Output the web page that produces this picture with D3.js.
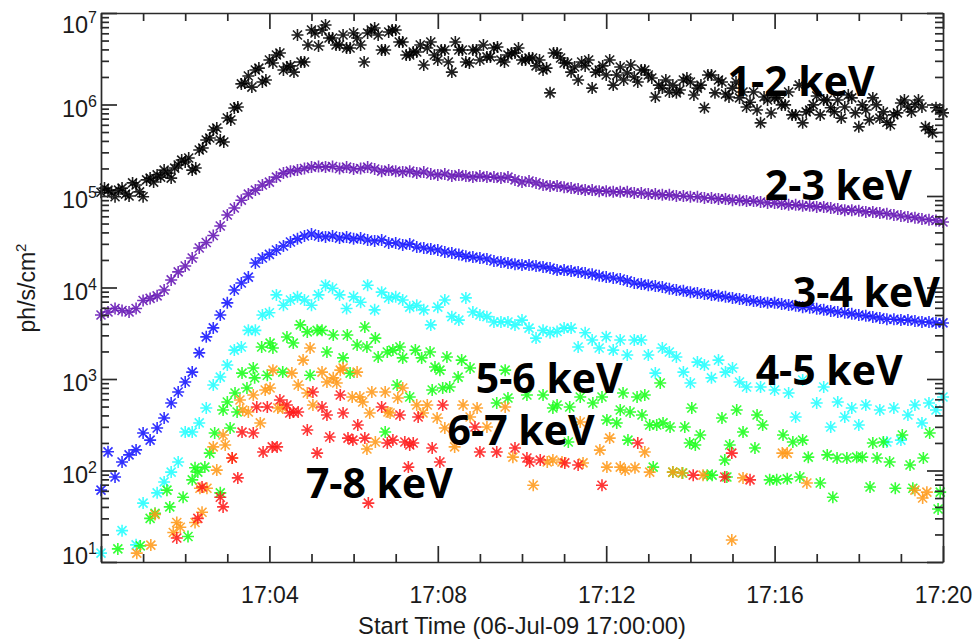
<!DOCTYPE html>
<html><head><meta charset="utf-8">
<script src="https://cdn.jsdelivr.net/npm/d3@7"></script>
<style>
body{margin:0;background:#fff;}
svg{display:block;}
</style></head><body>
<svg id="chart" width="974" height="641"></svg>
<script>
// ---------------- DATA ----------------
// seconds after 17:00:00 UT (regular sampling used by the dense channels)
const timeSec = [0,10,20,30,40,50,60,70,80,90,100,110,120,130,140,150,160,170,180,190,
200,210,220,230,240,250,260,270,280,290,300,310,320,330,340,350,360,370,380,390,
400,410,420,430,440,450,460,470,480,490,500,510,520,530,540,550,560,570,580,590,
600,610,620,630,640,650,660,670,680,690,700,710,720,730,740,750,760,770,780,790,
800,810,820,830,840,850,860,870,880,890,900,910,920,930,940,950,960,970,980,990,
1000,1010,1020,1030,1040,1050,1060,1070,1080,1090,1100,1110,1120,1130,1140,1150,1160,1170,1180,1190,1200];
// intermediate samples of the 1-2 keV channel
const timeSecHalf = [5,15,25,35,45,55,65,75,85,95,105,115,125,135,145,155,165,175,185,195,
205,215,225,235,245,255,265,275,285,295,305,315,325,335,345,355,365,375,385,395,
405,415,425,435,445,455,465,475,485,495,505,515,525,535,545,555,565,575,585,595,
605,615,625,635,645,655,665,675,685,695,705,715,725,735,745,755,765,775,785,795,
805,815,825,835,845,855,865,875,885,895,905,915,925,935,945,955,965,975,985,995,
1005,1015,1025,1035,1045,1055,1065,1075,1085,1095,1105,1115,1125,1135,1145,1155,1165,1175,1185,1195];

const flux12 = [1.1e5,1.16e5,9.8e4,1.22e5,1.0e5,1.32e5,9.8e4,1.57e5,1.7e5,1.92e5,
1.57e5,2.18e5,2.35e5,1.92e5,3.18e5,4.09e5,5.26e5,4.09e5,7.12e5,9.16e5,
1.68e6,2.05e6,2.38e6,1.76e6,3.06e6,3.48e6,2.38e6,2.64e6,5.75e6,2.91e6,
6.52e6,4.36e6,7.39e6,5.33e6,4.47e6,4.14e6,6.04e6,4.47e6,6.04e6,6.86e6,
3.94e6,6.2e6,6.52e6,4.82e6,3.48e6,3.75e6,2.7e6,4.82e6,3.06e6,3.94e6,
2.26e6,3.94e6,2.91e6,3.94e6,3.06e6,3.31e6,4.14e6,3.06e6,3.48e6,3.66e6,
3.06e6,3.22e6,2.64e6,2.38e6,1.34e6,3.66e6,2.84e6,2.26e6,1.85e6,2.64e6,
1.51e6,2.38e6,2.1e6,1.63e6,2.57e6,2.21e6,2.0e6,2.38e6,2.1e6,1.21e6,
1.51e6,1.37e6,1.34e6,1.85e6,1.76e6,1.51e6,9.2e5,2.1e6,1.85e6,1.3e6,
1.51e6,1.18e6,9.4e5,1.37e6,6.3e5,1.12e6,1.18e6,9.9e5,1.37e6,7.7e5,
6.3e5,8.7e5,1.24e6,1.12e6,9.2e5,1.12e6,9.4e5,1.18e6,5.7e5,8.7e5,
1.18e6,7.1e5,6.4e5,7.7e5,1.04e6,9.4e5,1.0e6,9.4e5,5.3e5,9.2e5,8.1e5];
const flux12Half = [1.22e5,1.08e5,1.16e5,1.05e5,1.39e5,1.11e5,1.5e5,1.42e5,1.61e5,1.78e5,
2.02e5,2.47e5,2.6e5,2.02e5,3.35e5,4.3e5,5.53e5,3.89e5,6.78e5,9.4e5,
1.72e6,1.55e6,2.5e6,1.85e6,2.84e6,3.66e6,2.57e6,2.26e6,2.91e6,4.47e6,
6.04e6,6.52e6,5.33e6,4.47e6,5.75e6,4.14e6,5.33e6,2.91e6,6.52e6,5.75e6,
3.94e6,6.52e6,4.82e6,3.48e6,3.75e6,4.47e6,4.14e6,3.48e6,3.94e6,2.91e6,
4.82e6,3.94e6,2.84e6,3.94e6,4.47e6,3.31e6,4.25e6,2.91e6,3.66e6,4.14e6,
3.06e6,3.22e6,3.06e6,2.5e6,3.66e6,3.22e6,2.84e6,2.57e6,2.91e6,3.06e6,
2.26e6,2.64e6,3.06e6,2.1e6,1.85e6,2.7e6,1.76e6,2.38e6,1.95e6,1.63e6,
1.85e6,1.63e6,1.44e6,1.95e6,1.27e6,1.63e6,2.1e6,1.34e6,1.76e6,1.21e6,
1.76e6,1.37e6,1.06e6,8.7e5,1.21e6,8.07e5,1.18e6,9.9e5,7.7e5,1.63e6,
8.3e5,9.9e5,7.7e5,1.12e6,8.3e5,7.1e5,1.27e6,8.1e5,9.9e5,6.8e5,
9.9e5,8.3e5,6.0e5,8.1e5,1.12e6,8.3e5,1.12e6,5.7e5,4.9e5,8.7e5];

const flux23 = [5.0e3,5.4e3,5.9e3,5.6e3,5.4e3,5.9e3,7.2e3,7.6e3,8.1e3,9.4e3,
1.21e4,1.48e4,1.72e4,2.1e4,2.7e4,3.1e4,3.7e4,4.7e4,6.2e4,7.4e4,
9.0e4,1.05e5,1.16e5,1.32e5,1.42e5,1.61e5,1.78e5,1.87e5,1.92e5,2.0e5,
2.07e5,2.1e5,2.07e5,2.1e5,2.0e5,2.07e5,1.97e5,2.0e5,2.07e5,1.97e5,
1.87e5,1.92e5,1.87e5,1.83e5,1.87e5,1.78e5,1.83e5,1.74e5,1.7e5,1.74e5,
1.65e5,1.7e5,1.65e5,1.61e5,1.65e5,1.61e5,1.61e5,1.57e5,1.61e5,1.5e5,
1.42e5,1.46e5,1.39e5,1.32e5,1.29e5,1.29e5,1.25e5,1.22e5,1.19e5,1.16e5,
1.16e5,1.13e5,1.13e5,1.11e5,1.11e5,1.11e5,1.08e5,1.08e5,1.05e5,1.05e5,
1.03e5,1.03e5,1.0e5,1.0e5,9.8e4,9.8e4,9.5e4,9.5e4,9.3e4,9.3e4,
9.0e4,9.0e4,8.8e4,8.8e4,8.6e4,8.4e4,8.4e4,8.2e4,8.0e4,8.0e4,
7.8e4,7.8e4,7.6e4,7.6e4,7.4e4,7.2e4,7.0e4,7.0e4,6.9e4,6.7e4,
6.7e4,6.5e4,6.4e4,6.2e4,6.05e4,5.9e4,5.8e4,5.6e4,5.5e4,5.4e4,5.2e4];

const flux34 = [61,160,85,124,148,168,257,215,291,375,
547,721,927,1190,1930,2890,3620,5000,6800,9400,
1.12e4,1.3e4,1.85e4,2.1e4,2.3e4,2.57e4,2.84e4,3.14e4,3.4e4,3.65e4,
3.84e4,3.65e4,3.57e4,3.65e4,3.47e4,3.57e4,3.4e4,3.47e4,3.3e4,3.22e4,
3.3e4,3.06e4,3.06e4,2.91e4,2.98e4,2.77e4,2.7e4,2.63e4,2.57e4,2.44e4,
2.38e4,2.3e4,2.2e4,2.15e4,2.1e4,2.05e4,1.95e4,1.9e4,1.85e4,1.8e4,
1.76e4,1.76e4,1.72e4,1.68e4,1.63e4,1.55e4,1.55e4,1.51e4,1.48e4,1.44e4,
1.4e4,1.34e4,1.3e4,1.27e4,1.24e4,1.18e4,1.12e4,1.09e4,1.06e4,1.04e4,
1.01e4,9700,9400,9200,8900,8700,8500,8300,8100,7900,
7700,7500,7300,7100,6950,6800,6800,6600,6450,6300,
6100,6000,5850,5700,5550,5400,5300,5150,5000,4900,
4770,4650,4500,4500,4400,4400,4300,4200,4200,4100,4100];

const flux45 = [12.5,null,null,22,null,15.4,44,null,57,75,
96,124,263,263,331,482,860,1050,1420,2070,
2240,3400,3400,5000,5300,8300,6400,7300,7900,7300,
6400,8300,1.06e4,9800,8300,5900,7900,6900,1.06e4,5700,
8900,7700,7900,7300,6100,6400,5700,3900,6100,7300,
4800,4400,7700,5400,5000,4800,4200,4200,4200,3900,
4400,3600,2800,3400,3200,3300,3600,3600,2240,3200,
2670,2180,2900,2070,2670,1830,2670,2670,1830,1160,
2180,1970,1740,1190,904,1530,1420,1030,1610,1190,
1320,927,818,null,818,null,758,null,703,384,
975,null,547,818,299,561,384,482,314,520,
null,458,205,482,215,404,520,331,547,458,636];

// sparser channels: own sample times (s after 17:00) and values
const timeSec56 = [24,56,70,77,94,98,117,124,130,134,
138,148,155,162,170,174,180,184,191,194,
201,208,217,219,229,237,241,245,259,265,
274,284,294,298,308,315,322,331,345,351,
355,365,376,379,391,395,405,408,416,422,
426,430,440,448,457,469,472,476,483,487,
493,497,509,514,526,564,576,580,607,630,
644,650,666,668,683,701,714,721,735,740,
744,751,754,764,771,775,782,787,792,797,
801,811,815,829,832,839,842,847,854,864,
871,885,889,892,896,906,915,932,935,943,
953,963,972,978,986,996,1000,1008,1025,1035,
1043,1049,1063,1077,1085,1096,1100,1106,1115,1124,
1132,1142,1153,1157,1172,1181,1193,1196];
const flux56 = [13.9,15,30,34,61,40,51,19,79,107,
96,109,155,257,57,458,561,291,703,436,
1160,798,1320,1030,2240,1100,2470,2180,1190,2880,
2470,3900,3270,1100,3400,3400,1970,3030,1700,3030,
1160,2350,3700,2240,2800,1740,263,1970,2070,860,
2240,1700,636,2070,1700,1970,759,1350,1250,798,
1740,818,1050,1610,1320,547,1250,620,668,668,
482,520,205,494,636,547,636,357,331,458,
703,215,436,636,404,668,314,109,314,904,
331,299,96,94,299,200,482,190,244,89,
89,375,130,85,190,458,263,176,404,314,
79,79,244,81,205,85,215,140,73,148,
51,137,137,140,140,66,200,137,205,124,
64,244,115,64,137,257,38,58];

const timeSec67 = [51,71,77,103,108,113,134,141,144,151,
160,165,174,177,187,198,202,210,217,227,
234,241,245,252,259,272,281,288,294,298,
302,315,322,331,336,341,345,358,365,369,
373,379,383,386,391,405,409,412,423,430,
450,459,465,479,490,504,516,526,536,550,
576,587,616,636,644,657,683,687,711,721,
725,740,747,761,775,782,815,828,858,899,
915,971,978,1006,1160,1171,1177];
const flux67 = [12.5,15.3,33,21,27,24,27,64,35,64,
181,101,244,190,137,590,458,436,668,331,
759,798,1250,482,482,1160,860,1610,703,2180,
520,1190,927,1030,904,1250,1320,636,1190,636,
561,172,425,721,205,721,436,425,620,798,
520,425,520,375,291,181,520,384,482,299,
494,140,69,124,130,124,339,121,167,109,
226,109,101,107,159,96,96,94,89,17.4,
83,155,155,73,61,50,58];

const timeSec78 = [108,138,144,170,174,187,195,201,217,222,
231,237,244,251,255,265,269,274,281,294,
302,308,315,322,326,341,345,352,359,366,
376,381,400,408,416,426,433,438,440,445,
452,472,483,487,533,540,564,590,607,611,
626,661,680,714,765,844,889,899,925];
const flux78 = [18.3,30,66,51,40,137,83,263,257,494,
159,494,181,181,590,520,425,436,436,277,
721,155,494,404,232,668,425,226,215,314,
226,44,494,200,215,404,205,109,190,200,
384,176,124,520,299,159,159,176,137,124,
130,121,115,69,200,89,85,155,79];

const channelNames = ["1-2 keV","2-3 keV","3-4 keV","4-5 keV","5-6 keV","6-7 keV","7-8 keV"];
const xTickLabels = ["17:04","17:08","17:12","17:16","17:20"];
const yTickExponents = [1,2,3,4,5,6,7];
const xAxisTitle = "Start Time (06-Jul-09 17:00:00)";
const yAxisTitle = "ph/s/cm";
const yAxisTitleSup = "2";

// ---------------- STYLE / LAYOUT ----------------
const colors = ["#000000","#6414b4","#1414ff","#22ffff","#1aff1a","#ff9a1a","#ff1a1a"];
// label anchor (time s, flux) for each channel name
const labelAnchors = [[893,1.24e6],[946,9.0e4],[986,6.1e3],[933,860],[534,703],[494,190],[292,50]];

const W = 974, H = 641;
const M = {left:101, right:943, top:13, bottom:562};
const t0 = Date.UTC(2009,6,6,17,0,0);
const toDate = s => new Date(t0 + s*1000);

const x = d3.scaleUtc().domain([toDate(0), toDate(1200)]).range([M.left, M.right]);
const y = d3.scaleLog().domain([10, 1e7]).range([M.bottom, M.top]);

const svg = d3.select("#chart");
svg.append("rect").attr("width",W).attr("height",H).attr("fill","#fff");

// ---------- markers ----------
const star = "M0,-6V6M-6,0H6M-4.5,-4.5L4.5,4.5M-4.5,4.5L4.5,-4.5";
function pts(times, vals){
  const out=[];
  times.forEach((t,i)=>{ if(vals[i]!=null) out.push([t,vals[i]]); });
  return out;
}
const series = [
  pts(timeSec, flux12).concat(pts(timeSecHalf, flux12Half)),
  pts(timeSec, flux23), pts(timeSec, flux34), pts(timeSec, flux45),
  pts(timeSec56, flux56), pts(timeSec67, flux67), pts(timeSec78, flux78)
];
const gMarks = svg.append("g");
series.forEach((s,k)=>{
  gMarks.append("g").attr("stroke",colors[k]).attr("stroke-width",1.6).attr("fill","none")
    .attr("stroke-opacity",0.88)
    .selectAll("path").data(s).join("path")
    .attr("d",star)
    .attr("transform",d=>`translate(${x(toDate(d[0]))},${y(d[1])})`);
});

// ---------- axes ----------
const majorX = [0,240,480,720,960,1200].map(toDate);
const minorX = [];
for(let m=1;m<20;m++){ if(m%4!==0) minorX.push(toDate(m*60)); }
const majorY = yTickExponents.map(e=>Math.pow(10,e));
const minorY = [];
for(let e=1;e<7;e++){ for(let k=2;k<=9;k++) minorY.push(k*Math.pow(10,e)); }

const axisColor = "#2a2a2a";
function styleAxis(g){
  g.selectAll("path,line").attr("stroke",axisColor).attr("stroke-width",1.7);
  g.attr("font-family","'Liberation Sans', Arial, Helvetica, sans-serif");
}

// bottom
const gxb = svg.append("g").attr("transform",`translate(0,${M.bottom})`)
  .call(d3.axisBottom(x).tickValues(majorX).tickSizeInner(-16).tickSizeOuter(0).tickPadding(25)
    .tickFormat((d,i)=> i===0 ? "" : xTickLabels[i-1]));
styleAxis(gxb);
gxb.selectAll("text").attr("font-size",23).attr("fill","#1a1a1a");
svg.append("g").attr("transform",`translate(0,${M.bottom})`)
  .call(d3.axisBottom(x).tickValues(minorX).tickSizeInner(-8).tickSizeOuter(0).tickFormat(""))
  .call(styleAxis).select(".domain").remove();
// top
const gxt = svg.append("g").attr("transform",`translate(0,${M.top})`)
  .call(d3.axisTop(x).tickValues(majorX).tickSizeInner(-16).tickSizeOuter(0).tickFormat(""));
styleAxis(gxt);
svg.append("g").attr("transform",`translate(0,${M.top})`)
  .call(d3.axisTop(x).tickValues(minorX).tickSizeInner(-8).tickSizeOuter(0).tickFormat(""))
  .call(styleAxis).select(".domain").remove();
// left
const gyl = svg.append("g").attr("transform",`translate(${M.left},0)`)
  .call(d3.axisLeft(y).tickValues(majorY).tickSizeInner(-16).tickSizeOuter(0).tickPadding(4).tickFormat(""));
styleAxis(gyl);
svg.append("g").attr("transform",`translate(${M.left},0)`)
  .call(d3.axisLeft(y).tickValues(minorY).tickSizeInner(-8).tickSizeOuter(0).tickFormat(""))
  .call(styleAxis).select(".domain").remove();
// right
const gyr = svg.append("g").attr("transform",`translate(${M.right},0)`)
  .call(d3.axisRight(y).tickValues(majorY).tickSizeInner(-16).tickSizeOuter(0).tickFormat(""));
styleAxis(gyr);
svg.append("g").attr("transform",`translate(${M.right},0)`)
  .call(d3.axisRight(y).tickValues(minorY).tickSizeInner(-8).tickSizeOuter(0).tickFormat(""))
  .call(styleAxis).select(".domain").remove();

// y tick labels 10^n
gyl.selectAll(".tick").each(function(d,i){
  const ty = y(d);
  const base = Math.min(Math.max(ty+11.5, 32), 563);
  const t = d3.select(this).select("text")
    .attr("dy",null).attr("y", base-ty).attr("x",-4)
    .attr("text-anchor","end").attr("font-size",23.5).attr("fill","#1a1a1a").text(null);
  t.append("tspan").text("10");
  t.append("tspan").attr("dy",-10).attr("font-size",16).text(String(yTickExponents[i]));
});

// axis titles
svg.append("text").attr("x",(M.left+M.right)/2).attr("y",634)
  .attr("text-anchor","middle").attr("font-family","'Liberation Sans', Arial, sans-serif")
  .attr("font-size",23.7).attr("fill","#1a1a1a").text(xAxisTitle);
const yt = svg.append("text").attr("transform",`translate(35,288) rotate(-90)`)
  .attr("text-anchor","middle").attr("font-family","'Liberation Sans', Arial, sans-serif")
  .attr("font-size",23).attr("fill","#1a1a1a");
yt.append("tspan").text(yAxisTitle);
yt.append("tspan").attr("dy",-9).attr("font-size",15).text(yAxisTitleSup);

// channel labels
svg.append("g").selectAll("text").data(channelNames).join("text")
  .attr("x",(d,i)=>x(toDate(labelAnchors[i][0])))
  .attr("y",(d,i)=>y(labelAnchors[i][1]))
  .attr("font-family","'Open Sans', Lato, sans-serif").attr("font-weight",700)
  .attr("font-size",41).attr("fill","#000")
  .text(d=>d);
</script>
</body></html>
